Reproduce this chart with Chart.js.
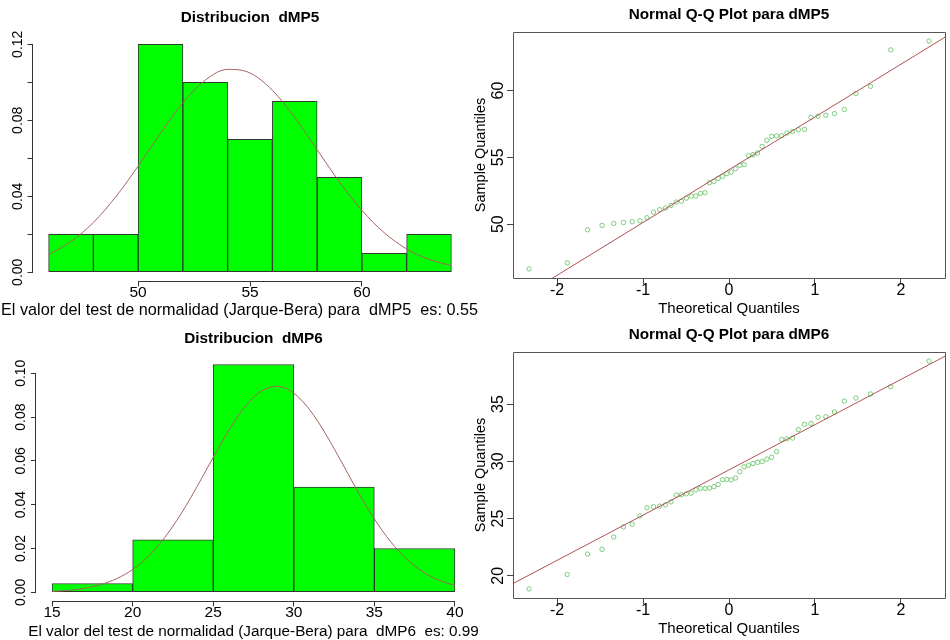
<!DOCTYPE html>
<html lang="es">
<head>
<meta charset="UTF-8">
<title>Distribucion dMP5 / dMP6</title>
<script src="https://cdn.jsdelivr.net/npm/chart.js"></script>
<style>
  html, body { margin: 0; padding: 0; background: #fff; overflow: hidden; }
  body { width: 950px; height: 640px; position: relative; }
  canvas { position: absolute; }
  #histMP5 { left: 0; top: 0; z-index: 2; }
  #qqMP5 { left: 470px; top: 0; }
  #histMP6 { left: 0; top: 320px; z-index: 2; }
  #qqMP6 { left: 470px; top: 320px; }
</style>
</head>
<body>
<canvas id="qqMP5" width="480" height="320"></canvas>
<canvas id="qqMP6" width="480" height="320"></canvas>
<canvas id="histMP5" width="490" height="320"></canvas>
<canvas id="histMP6" width="490" height="320"></canvas>
<script>
// ---- dMP5: histogram (density), fitted normal curve ----
const mp5Breaks = [46, 48, 50, 52, 54, 56, 58, 60, 62, 64];
const mp5Density = [0.02, 0.02, 0.12, 0.10, 0.07, 0.09, 0.05, 0.01, 0.02];
const mp5CurveX = [46, 47, 48, 49, 50, 51, 52, 53, 54, 55, 56, 57, 58, 59, 60, 61, 62, 63, 64];
const mp5CurveY = [0.0093, 0.0162, 0.0262, 0.0397, 0.0559, 0.0732, 0.0892, 0.1011, 0.1068, 0.1049,
                   0.0958, 0.0815, 0.0645, 0.0475, 0.0326, 0.0208, 0.0123, 0.0068, 0.0035];
const mp5XTicks = [50, 55, 60];
const mp5YTicks = [0, 0.02, 0.04, 0.06, 0.08, 0.10, 0.12];
const mp5YLabels = ['0.00', '', '0.04', '', '0.08', '', '0.12'];

// ---- dMP6: histogram (density), fitted normal curve ----
const mp6Breaks = [15, 20, 25, 30, 35, 40];
const mp6Density = [0.004, 0.024, 0.104, 0.048, 0.020];
const mp6CurveX = [15, 16, 17, 18, 19, 20, 21, 22, 23, 24, 25, 26, 27, 28, 29, 30, 31, 32, 33, 34, 35, 36, 37, 38, 39, 40];
const mp6CurveY = [0.0004, 0.0009, 0.0018, 0.0035, 0.0062, 0.0104, 0.0166, 0.0251, 0.0358, 0.0483,
                   0.0616, 0.0744, 0.0850, 0.0919, 0.0940, 0.0909, 0.0832, 0.0720, 0.0590, 0.0457,
                   0.0335, 0.0232, 0.0152, 0.0094, 0.0055, 0.0031];
const mp6XTicks = [15, 20, 25, 30, 35, 40];
const mp6YTicks = [0, 0.02, 0.04, 0.06, 0.08, 0.10];
const mp6YLabels = ['0.00', '0.02', '0.04', '0.06', '0.08', '0.10'];

// ---- Q-Q plots (n = 50) ----
const theoQuantiles = [-2.326, -1.881, -1.645, -1.476, -1.341, -1.227, -1.126, -1.036, -0.954, -0.878,
                       -0.806, -0.739, -0.674, -0.613, -0.553, -0.496, -0.440, -0.385, -0.332, -0.279,
                       -0.228, -0.176, -0.126, -0.075, -0.025, 0.025, 0.075, 0.126, 0.176, 0.228,
                       0.279, 0.332, 0.385, 0.440, 0.496, 0.553, 0.613, 0.674, 0.739, 0.806,
                       0.878, 0.954, 1.036, 1.126, 1.227, 1.341, 1.476, 1.645, 1.881, 2.326];
const mp5Sample = [46.65, 47.10, 49.58, 49.90, 50.05, 50.12, 50.18, 50.25, 50.48, 50.90,
                   51.08, 51.20, 51.40, 51.65, 51.72, 51.95, 52.10, 52.10, 52.30, 52.35,
                   53.10, 53.20, 53.42, 53.58, 53.78, 53.90, 54.15, 54.40, 54.45, 55.12,
                   55.20, 55.32, 55.82, 56.27, 56.57, 56.60, 56.62, 56.82, 56.93, 57.07,
                   57.09, 57.99, 58.07, 58.15, 58.27, 58.58, 59.78, 60.31, 63.04, 63.70];
const mp6Sample = [18.86, 20.12, 21.90, 22.31, 23.39, 24.27, 24.50, 25.23, 25.94, 26.02,
                   26.08, 26.20, 26.46, 27.05, 27.08, 27.16, 27.22, 27.51, 27.63, 27.63,
                   27.66, 27.78, 27.98, 28.39, 28.42, 28.37, 28.54, 29.09, 29.52, 29.66,
                   29.80, 29.91, 29.97, 30.19, 30.35, 30.85, 31.91, 31.96, 32.03, 32.77,
                   33.23, 33.30, 33.85, 33.89, 34.30, 35.25, 35.52, 35.88, 36.51, 38.75];
const qqLineQ = [-2.6, 2.6];
const mp5QQLine = [43.80, 64.34];
const mp6QQLine = [18.98, 39.52];
const qqXTicks = [-2, -1, 0, 1, 2];
const mp5QQYTicks = [50, 55, 60];
const mp6QQYTicks = [20, 25, 30, 35];

Chart.defaults.font.family = "'Liberation Sans', Arial, sans-serif";
Chart.defaults.color = '#000';

// R-style axes: axis line only between first and last tick, or a full box
const rAxes = {
  id: 'rAxes',
  afterDatasetsDraw(chart, args, opts) {
    const { ctx, chartArea: a, scales: { x, y } } = chart;
    ctx.save();
    ctx.strokeStyle = opts.color;
    ctx.lineWidth = 1;
    ctx.beginPath();
    if (opts.box) {
      ctx.rect(Math.round(a.left) + 0.5, Math.round(a.top) + 0.5,
               Math.round(a.right - a.left), Math.round(a.bottom - a.top));
    } else {
      const yb = Math.round(a.bottom) + 0.5;
      const xl = Math.round(a.left) - 0.5;
      ctx.moveTo(x.getPixelForValue(x.ticks[0].value), yb);
      ctx.lineTo(x.getPixelForValue(x.ticks[x.ticks.length - 1].value), yb);
      ctx.moveTo(xl, y.getPixelForValue(y.ticks[0].value));
      ctx.lineTo(xl, y.getPixelForValue(y.ticks[y.ticks.length - 1].value));
    }
    ctx.stroke();
    ctx.restore();
  }
};

// the x label under the histograms is wider than the plot, so it is drawn
// here without the title box's maxWidth squeezing it
const rNote = {
  id: 'rNote',
  afterDraw(chart, args, opts) {
    const { ctx, chartArea: a } = chart;
    ctx.save();
    ctx.font = opts.size + 'px ' + Chart.defaults.font.family;
    ctx.fillStyle = '#000';
    ctx.textAlign = 'center';
    ctx.textBaseline = 'middle';
    ctx.fillText(opts.text, (a.left + a.right) / 2 + opts.shift, opts.y);
    ctx.restore();
  }
};

// R extends each axis range by 4% on both sides
const pad4 = (lo, hi) => [lo - 0.04 * (hi - lo), hi + 0.04 * (hi - lo)];

function histChart(id, o) {
  const bars = o.density.map((d, i) => ({ x: (o.breaks[i] + o.breaks[i + 1]) / 2, y: d }));
  const curve = o.curveX.map((x, i) => ({ x: x, y: o.curveY[i] }));
  const [xmin, xmax] = pad4(o.breaks[0], o.breaks[o.breaks.length - 1]);
  const [ymin, ymax] = pad4(0, Math.max(...o.density));
  return new Chart(document.getElementById(id), {
    type: 'bar',
    data: {
      datasets: [
        { type: 'line', data: curve, borderColor: '#a3645e', borderWidth: 1, pointRadius: 0,
          cubicInterpolationMode: 'monotone', order: 1 },
        { data: bars, backgroundColor: '#00ff00', borderColor: '#2f3a2f', borderWidth: 1,
          borderSkipped: false, barPercentage: 1, categoryPercentage: 1, order: 2 }
      ]
    },
    plugins: [rAxes, rNote],
    options: {
      responsive: false,
      animation: false,
      events: [],
      layout: { padding: { right: o.padRight, bottom: 320 - 281.4 - 20 } },
      plugins: {
        legend: { display: false },
        tooltip: { enabled: false },
        title: { display: true, text: o.title, fullSize: false,
                 font: { size: 15.3, weight: 'bold' }, padding: o.titlePad },
        rNote: { text: o.note, size: o.noteSize, y: o.noteY, shift: o.noteShift },
        rAxes: { box: false, color: '#333' }
      },
      scales: {
        x: {
          type: 'linear', min: xmin, max: xmax, offset: false,
          afterBuildTicks: s => { s.ticks = o.xTicks.map(v => ({ value: v })); },
          afterFit: s => { s.height = 20; },
          grid: { drawOnChartArea: false, offset: false, tickLength: 5, color: '#333' },
          border: { display: false },
          ticks: { autoSkip: false, maxRotation: 0, padding: o.xTickPad, font: { size: 15.5 },
                   callback: v => String(v) }
        },
        y: {
          min: ymin, max: ymax,
          afterBuildTicks: s => { s.ticks = o.yTicks.map(v => ({ value: v })); },
          afterFit: s => { s.width = o.yAxisW; },
          grid: { drawOnChartArea: false, tickLength: 5, color: '#333' },
          border: { display: false },
          ticks: { autoSkip: false, minRotation: 90, maxRotation: 90, crossAlign: 'center',
                   padding: o.yTickPad, font: { size: 14 }, callback: (v, i) => o.yLabels[i] }
        }
      }
    }
  });
}

function qqChart(id, o) {
  const pts = theoQuantiles.map((q, i) => ({ x: q, y: o.sample[i] }));
  const line = qqLineQ.map((q, i) => ({ x: q, y: o.line[i] }));
  const [xmin, xmax] = pad4(theoQuantiles[0], theoQuantiles[theoQuantiles.length - 1]);
  const [ymin, ymax] = pad4(Math.min(...o.sample), Math.max(...o.sample));
  return new Chart(document.getElementById(id), {
    type: 'scatter',
    data: {
      datasets: [
        { data: pts, pointRadius: 2.2, borderWidth: 1, borderColor: '#78cc78',
          backgroundColor: 'rgba(0,0,0,0)', order: 2 },
        { type: 'line', data: line, borderColor: '#b05252', borderWidth: 1, pointRadius: 0, order: 1 }
      ]
    },
    plugins: [rAxes],
    options: {
      responsive: false,
      animation: false,
      events: [],
      layout: { padding: { right: 1 } },
      plugins: {
        legend: { display: false },
        tooltip: { enabled: false },
        title: { display: true, text: o.title, fullSize: false,
                 font: { size: 15.3, weight: 'bold' }, padding: { top: 5.5, bottom: 8.1 } },
        rAxes: { box: true, color: '#555' }
      },
      scales: {
        x: {
          type: 'linear', min: xmin, max: xmax,
          afterBuildTicks: s => { s.ticks = qqXTicks.map(v => ({ value: v })); },
          afterFit: s => { s.height = 42; },
          grid: { drawOnChartArea: false, tickLength: 6, color: '#444' },
          border: { display: false },
          ticks: { autoSkip: false, maxRotation: 0, padding: -2.8, font: { size: 16 },
                   callback: v => String(v) },
          title: { display: true, text: 'Theoretical Quantiles', font: { size: 15 },
                   padding: { top: 0, bottom: 2.5 } }
        },
        y: {
          min: ymin, max: ymax,
          afterBuildTicks: s => { s.ticks = o.yTicks.map(v => ({ value: v })); },
          afterFit: s => { s.width = 43; },
          grid: { drawOnChartArea: false, tickLength: 6, color: '#444' },
          border: { display: false },
          ticks: { autoSkip: false, minRotation: 90, maxRotation: 90, crossAlign: 'center',
                   padding: -0.4, font: { size: 16 }, callback: v => String(v) },
          title: { display: true, text: 'Sample Quantiles', font: { size: 14.5 },
                   padding: { top: 2.5, bottom: 0 } }
        }
      }
    }
  });
}

histChart('histMP5', {
  breaks: mp5Breaks, density: mp5Density, curveX: mp5CurveX, curveY: mp5CurveY,
  xTicks: mp5XTicks, yTicks: mp5YTicks, yLabels: mp5YLabels,
  title: 'Distribucion  dMP5',
  note: 'El valor del test de normalidad (Jarque-Bera) para  dMP5  es: 0.55',
  noteSize: 16.2, noteY: 310.5, noteShift: -10.5,
  titlePad: { top: 8.3, bottom: 8.5 }, padRight: 490 - 467.5, yAxisW: 32.5,
  xTickPad: -3.1, yTickPad: -4.3
});

histChart('histMP6', {
  breaks: mp6Breaks, density: mp6Density, curveX: mp6CurveX, curveY: mp6CurveY,
  xTicks: mp6XTicks, yTicks: mp6YTicks, yLabels: mp6YLabels,
  title: 'Distribucion  dMP6',
  note: 'El valor del test de normalidad (Jarque-Bera) para  dMP6  es: 0.99',
  noteSize: 15.3, noteY: 311.5, noteShift: 0,
  titlePad: { top: 9.1, bottom: 7.9 }, padRight: 490 - 471, yAxisW: 36,
  xTickPad: -2.8, yTickPad: -3.6
});

qqChart('qqMP5', { sample: mp5Sample, line: mp5QQLine, yTicks: mp5QQYTicks, title: 'Normal Q-Q Plot para dMP5' });
qqChart('qqMP6', { sample: mp6Sample, line: mp6QQLine, yTicks: mp6QQYTicks, title: 'Normal Q-Q Plot para dMP6' });
</script>
</body>
</html>
